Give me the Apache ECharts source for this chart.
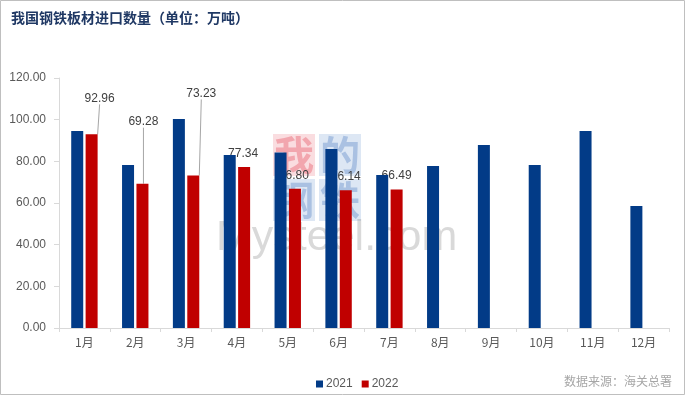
<!DOCTYPE html>
<html>
<head>
<meta charset="utf-8">
<script src="https://cdn.jsdelivr.net/npm/echarts@6/dist/echarts.min.js"></script>
<style>
html,body{margin:0;padding:0;background:#fff;}
#chart{width:686px;height:396px;}
</style>
</head>
<body>
<div id="chart"></div>
<script>
var categories = ['1月','2月','3月','4月','5月','6月','7月','8月','9月','10月','11月','12月'];
var values2021 = [94.6, 78.2, 100.3, 83.0, 84.2, 85.9, 73.4, 77.8, 87.8, 78.2, 94.6, 58.6];
var values2022 = [92.96, 69.28, 73.23, 77.34, 66.80, 66.14, 66.49, null, null, null, null, null];
var seriesNames = ['2021', '2022'];
var titleText = '我国钢铁板材进口数量（单位：万吨）';
var sourceText = '数据来源：海关总署';

// label shifts (pixels) for the 2022 value labels; third item = show leader line
var labelShift = [[8,-25,true],[1,-51,true],[8,-71,true],[-1,-2,false],[-1,-2,false],[0,-3,false],[0,-3,false]];

var chart = echarts.init(document.getElementById('chart'), null, {renderer:'canvas'});
var axisGray = '#D9D9D9';
var textGray = '#595959';
var numFont = '"Liberation Sans", "Noto Sans CJK SC", sans-serif';
var cjkFont = '"Noto Sans CJK SC", sans-serif';

var data2022 = values2022.map(function(v, i){
  var s = labelShift[i];
  return {value: v, labelLine: {show: !!(s && s[2])}};
});

var option = {
  backgroundColor: '#fff',
  animation: false,
  title: {
    text: titleText,
    left: 6, top: 6,
    textStyle: {fontSize: 14, fontWeight: 'bold', color: '#1F3864', fontFamily: cjkFont}
  },
  legend: {
    data: seriesNames,
    left: 311, top: 373,
    itemWidth: 7, itemHeight: 7, itemGap: 9,
    icon: 'rect',
    textStyle: {fontSize: 12, color: textGray, fontFamily: numFont, padding:[0,0,0,-2]}
  },
  grid: {left: 59, right: 17, top: 78, bottom: 68, containLabel: false},
  xAxis: {
    type: 'category',
    data: categories,
    axisLine: {show: true, lineStyle: {color: axisGray}},
    axisTick: {show: true, length: 4, alignWithLabel: false, lineStyle: {color: axisGray}},
    axisLabel: {color: textGray, fontSize: 12, margin: 8, fontFamily: cjkFont},
    splitLine: {show: false}
  },
  yAxis: {
    type: 'value',
    min: 0, max: 120, interval: 20,
    axisLine: {show: true, lineStyle: {color: axisGray}},
    axisTick: {show: true, length: 5, lineStyle: {color: axisGray}},
    axisLabel: {color: textGray, fontSize: 12, margin: 13, fontFamily: numFont,
      formatter: function(v){ return v.toFixed(2); }},
    splitLine: {show: false}
  },
  series: [
    {
      name: seriesNames[0], type: 'bar', data: values2021,
      barWidth: 12, barGap: '20%', z: 3,
      itemStyle: {color: '#023B87'}
    },
    {
      name: seriesNames[1], type: 'bar', data: data2022,
      barWidth: 12, z: 2,
      itemStyle: {color: '#C00000'},
      label: {
        show: true, position: 'top', distance: 5,
        color: '#404040', fontSize: 12, fontFamily: numFont,
        formatter: function(p){ return p.value == null ? '' : p.value.toFixed(2); }
      },
      labelLine: {show: true, lineStyle: {color: '#A6A6A6', width: 1}, minTurnAngle: 180},
      labelLayout: function(params){
        var s = labelShift[params.dataIndex] || [0,0];
        return {dx: s[0], dy: s[1]};
      }
    }
  ],
  graphic: [
    {type:'rect', z:200, silent:true, shape:{x:0.5,y:0.5,width:684,height:394},
      style:{fill:'none', stroke:'#BFBFBF', lineWidth:1}},
    {type:'text', right: 14, top: 375, z: 10,
      style:{text: sourceText, fill:'#A6A6A6', fontSize: 12, fontFamily: cjkFont}},
    // watermark
    {type:'group', z: 100, silent:true, children:[
      {type:'rect', shape:{x:273,y:134,width:42,height:42}, style:{fill:'rgba(240,150,160,0.32)'}},
      {type:'rect', shape:{x:319,y:134,width:42,height:42}, style:{fill:'rgba(150,180,220,0.32)'}},
      {type:'rect', shape:{x:273,y:179,width:42,height:42}, style:{fill:'rgba(150,180,220,0.32)'}},
      {type:'rect', shape:{x:319,y:179,width:42,height:42}, style:{fill:'rgba(150,180,220,0.32)'}},
      {type:'text', x:294, y:155, style:{text:'我', fontSize:40, fontWeight:'bold', fontFamily:cjkFont, fill:'rgba(230,90,105,0.42)', align:'center', verticalAlign:'middle'}},
      {type:'text', x:340, y:155, style:{text:'的', fontSize:40, fontWeight:'bold', fontFamily:cjkFont, fill:'rgba(100,140,200,0.42)', align:'center', verticalAlign:'middle'}},
      {type:'text', x:294, y:200, style:{text:'钢', fontSize:40, fontWeight:'bold', fontFamily:cjkFont, fill:'rgba(100,140,200,0.42)', align:'center', verticalAlign:'middle'}},
      {type:'text', x:340, y:200, style:{text:'铁', fontSize:40, fontWeight:'bold', fontFamily:cjkFont, fill:'rgba(100,140,200,0.42)', align:'center', verticalAlign:'middle'}},
      {type:'text', x:216, y:217, style:{text:'Mysteel.com', fontSize:43, fontFamily:'"Liberation Sans", sans-serif', fill:'rgba(140,140,140,0.33)'}}
    ]}
  ]
};
chart.setOption(option);
</script>
</body>
</html>
